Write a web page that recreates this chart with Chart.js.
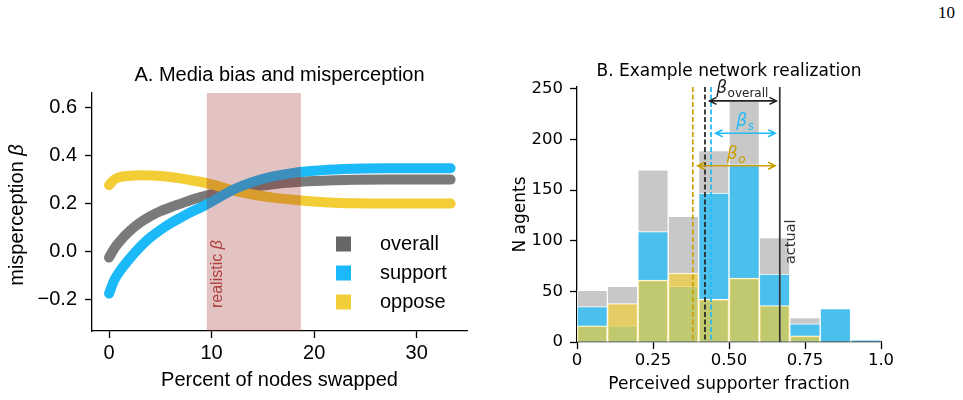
<!DOCTYPE html>
<html>
<head>
<meta charset="utf-8">
<script src="https://cdn.jsdelivr.net/npm/chart.js@4"></script>
<style>
  body { margin: 0; background: #fff; width: 963px; height: 400px; position: relative; overflow: hidden; }
  #boxA { position: absolute; left: 0; top: 0; width: 480px; height: 400px; }
  #boxB { position: absolute; left: 480px; top: 0; width: 483px; height: 400px; }
  #page { position: absolute; left: 938px; top: 3px; font: 17px 'Liberation Serif', serif; color: #000; }
</style>
</head>
<body>
<div id="page">10</div>
<div id="boxA"><canvas id="chartA" width="480" height="400"></canvas></div>
<div id="boxB"><canvas id="chartB" width="483" height="400"></canvas></div>
<script>
// ---- panel A data ----
const swapPct     = [0, 0.5, 1, 2, 3, 4, 5, 6, 7, 8, 9, 10, 12, 14, 16, 18, 20, 22, 24, 27, 30, 33.3];
const overallBeta = [-0.025, 0.012, 0.04, 0.085, 0.12, 0.147, 0.168, 0.185, 0.2, 0.215, 0.228, 0.24, 0.256, 0.27, 0.281, 0.289, 0.294, 0.297, 0.299, 0.3, 0.3, 0.3];
const supportBeta = [-0.175, -0.12, -0.085, -0.03, 0.018, 0.058, 0.09, 0.118, 0.142, 0.165, 0.185, 0.208, 0.256, 0.29, 0.313, 0.328, 0.337, 0.342, 0.345, 0.347, 0.347, 0.347];
const opposeBeta  = [0.277, 0.3, 0.31, 0.316, 0.318, 0.317, 0.315, 0.311, 0.305, 0.297, 0.29, 0.28, 0.256, 0.238, 0.225, 0.216, 0.209, 0.204, 0.201, 0.2, 0.2, 0.2];
const realisticRange = [9.53, 18.7];
const seriesNamesA = ['overall', 'support', 'oppose'];
const xTicksA = [0, 10, 20, 30];
const yTicksA = [-0.2, 0, 0.2, 0.4, 0.6];
const yTickLabelsA = ['\u22120.2', '0.0', '0.2', '0.4', '0.6'];

// ---- panel B data ----
const binCenters    = [0.05, 0.15, 0.25, 0.35, 0.45, 0.55, 0.65, 0.75, 0.85, 0.95];
const overallCounts = [51, 55, 170, 124, 189, 238, 103, 24, 33, 2];
const supportCounts = [35, 16, 109, 55, 147, 175, 67, 18, 33, 2];
const opposeCounts  = [16, 38, 61, 68, 42, 63, 36, 6, 0, 0];
const meanOppose = 0.381, meanOverall = 0.421, meanSupport = 0.441, actualFrac = 0.667;
const xTicksB = [0, 0.25, 0.5, 0.75, 1.0];
const xTickLabelsB = ['0', '0.25', '0.50', '0.75', '1.0'];
const yTicksB = [0, 50, 100, 150, 200, 250];

const LIB = '"Liberation Sans", Arial, sans-serif';
const DJV = '"DejaVu Sans", sans-serif';
const lineColors = ['#7a7a7a', '#1bb9f8', '#f2cd35'];
const legendColors = ['#666666', '#1bb9f9', '#f2cf3a'];

const pts = ys => swapPct.map((x, i) => ({ x, y: ys[i] }));
const bars = ys => binCenters.map((x, i) => ({ x, y: ys[i] }));

function axisStyle(font, pad) {
  return {
    grid: { drawOnChartArea: false, drawTicks: true, tickLength: 7, tickWidth: 1.3, tickColor: '#000' },
    border: { color: '#000', width: 1.3 },
    ticks: { color: '#000', font, padding: pad }
  };
}

// text with an italic beta at the end, centred on (0,0)
function textWithBeta(ctx, txt, size, family) {
  ctx.font = size + 'px ' + family;
  const w1 = ctx.measureText(txt).width;
  ctx.font = 'italic ' + size + 'px ' + family;
  const w2 = ctx.measureText('\u03b2').width;
  ctx.textAlign = 'left';
  ctx.font = size + 'px ' + family;
  ctx.fillText(txt, -(w1 + w2) / 2, 0);
  ctx.font = 'italic ' + size + 'px ' + family;
  ctx.fillText('\u03b2', -(w1 + w2) / 2 + w1, 0);
}

// ---- panel A: curves, shaded band, legend ----
const panelA = {
  id: 'panelA',
  afterDatasetsDraw(chart) {
    const { ctx, chartArea: a, scales: { x, y } } = chart;
    ctx.save();
    const x0 = x.getPixelForValue(realisticRange[0]);
    const x1 = x.getPixelForValue(realisticRange[1]);
    ctx.fillStyle = 'rgba(150,30,30,0.27)';
    ctx.fillRect(x0, a.top, x1 - x0, a.bottom - a.top);

    // rotated band label
    ctx.translate(x.getPixelForValue(10.6), y.getPixelForValue(-0.094));
    ctx.rotate(-Math.PI / 2);
    ctx.fillStyle = '#b04040';
    ctx.textBaseline = 'middle';
    textWithBeta(ctx, 'realistic ', 16, LIB);
    ctx.restore();

    // y axis title
    ctx.save();
    ctx.translate(17, (a.top + a.bottom) / 2 + 3);
    ctx.rotate(-Math.PI / 2);
    ctx.fillStyle = '#000';
    ctx.textBaseline = 'middle';
    textWithBeta(ctx, 'misperception ', 20, LIB);
    ctx.restore();

    // legend inside the axes
    ctx.save();
    ctx.font = '20px ' + LIB;
    ctx.textBaseline = 'middle';
    ctx.textAlign = 'left';
    seriesNamesA.forEach((name, i) => {
      const cy = 244 + i * 29;
      ctx.fillStyle = legendColors[i];
      ctx.fillRect(336, cy - 7.5, 15, 15);
      ctx.fillStyle = '#000';
      ctx.fillText(name, 380, cy);
    });
    // title
    ctx.textAlign = 'center';
    ctx.fillText('A. Media bias and misperception', (a.left + a.right) / 2, 75);
    ctx.restore();
  }
};

new Chart(document.getElementById('chartA'), {
  type: 'line',
  data: {
    datasets: [overallBeta, supportBeta, opposeBeta].map((ys, i) => ({
      label: seriesNamesA[i],
      data: pts(ys),
      borderColor: lineColors[i],
      borderWidth: 10,
      borderCapStyle: 'round',
      borderJoinStyle: 'round',
      pointRadius: 0,
      cubicInterpolationMode: 'monotone',
      order: [3, 1, 2][i]
    }))
  },
  options: {
    responsive: false,
    animation: false,
    layout: { padding: { top: 93, right: 13, left: 0, bottom: 0 } },
    plugins: { legend: { display: false }, tooltip: { enabled: false } },
    scales: {
      x: {
        type: 'linear', min: -1.66, max: 34.9,
        afterBuildTicks: s => { s.ticks = xTicksA.map(v => ({ value: v })); },
        afterFit: s => { s.height = 69; },
        title: { display: true, text: 'Percent of nodes swapped', color: '#000',
                 font: { family: LIB, size: 20, lineHeight: 1.2 }, padding: { top: 0, bottom: 8 } },
        ...axisStyle({ family: LIB, size: 20 }, 3)
      },
      y: {
        type: 'linear', min: -0.331, max: 0.661,
        afterBuildTicks: s => { s.ticks = yTicksA.map(v => ({ value: v })); },
        afterFit: s => { s.width = 92; },
        ...axisStyle({ family: LIB, size: 20 }, 8),
        ticks: { color: '#000', font: { family: LIB, size: 20 }, padding: 8,
                 callback: (v, i) => yTickLabelsA[i] }
      }
    }
  },
  plugins: [panelA]
});

// ---- panel B: histogram with mean markers ----
function drawArrow(ctx, xa, xb, yy, color) {
  const hl = 7, hw = 3.5;
  ctx.strokeStyle = color;
  ctx.lineWidth = 1.6;
  ctx.beginPath();
  ctx.moveTo(xa, yy); ctx.lineTo(xb, yy);
  ctx.moveTo(xa + hl, yy - hw); ctx.lineTo(xa, yy); ctx.lineTo(xa + hl, yy + hw);
  ctx.moveTo(xb - hl, yy - hw); ctx.lineTo(xb, yy); ctx.lineTo(xb - hl, yy + hw);
  ctx.stroke();
}

function drawBeta(ctx, xx, yy, sub, color, subItalic) {
  ctx.fillStyle = color;
  ctx.textBaseline = 'alphabetic';
  ctx.textAlign = 'left';
  ctx.font = 'italic 17px ' + DJV;
  ctx.fillText('\u03b2', xx, yy);
  const w = ctx.measureText('\u03b2').width;
  ctx.font = (subItalic ? 'italic ' : '') + '12px ' + DJV;
  ctx.fillText(sub, xx + w + 0.5, yy + 4);
}

const panelB = {
  id: 'panelB',
  afterDatasetsDraw(chart) {
    const { ctx, chartArea: a, scales: { x, y } } = chart;
    ctx.save();
    const vlines = [
      [meanOppose, '#c9a000', [5, 2.5]],
      [meanOverall, '#222222', [5, 2.5]],
      [meanSupport, '#22bbf5', [5, 2.5]],
      [actualFrac, '#333333', []]
    ];
    vlines.forEach(([v, c, dash]) => {
      const px = x.getPixelForValue(v);
      ctx.strokeStyle = c;
      ctx.lineWidth = 1.7;
      ctx.setLineDash(dash);
      ctx.beginPath();
      ctx.moveTo(px, a.top);
      ctx.lineTo(px, a.bottom);
      ctx.stroke();
    });
    ctx.setLineDash([]);

    drawArrow(ctx, x.getPixelForValue(0.436), x.getPixelForValue(0.656), y.getPixelForValue(238), '#222222');
    drawArrow(ctx, x.getPixelForValue(0.456), x.getPixelForValue(0.652), y.getPixelForValue(206), '#22bbf5');
    drawArrow(ctx, x.getPixelForValue(0.397), x.getPixelForValue(0.652), y.getPixelForValue(174), '#c9a000');

    drawBeta(ctx, x.getPixelForValue(0.458), y.getPixelForValue(238) - 8, 'overall', '#222222', false);
    drawBeta(ctx, x.getPixelForValue(0.524), y.getPixelForValue(206) - 7, 's', '#22bbf5', true);
    drawBeta(ctx, x.getPixelForValue(0.493), y.getPixelForValue(174) - 7, 'o', '#c9a000', true);

    // "actual" label beside the solid line
    ctx.save();
    ctx.translate(x.getPixelForValue(actualFrac) + 11, y.getPixelForValue(99));
    ctx.rotate(-Math.PI / 2);
    ctx.font = '14.5px ' + DJV;
    ctx.fillStyle = '#333';
    ctx.textAlign = 'center';
    ctx.textBaseline = 'middle';
    ctx.fillText('actual', 0, 0);
    ctx.restore();

    ctx.font = '17px ' + DJV;
    ctx.fillStyle = '#000';
    ctx.textAlign = 'center';
    ctx.textBaseline = 'middle';
    ctx.fillText('B. Example network realization', (a.left + a.right) / 2, 72);
    ctx.restore();
  }
};

const barBase = { borderColor: '#ffffff', borderWidth: 1, barPercentage: 1, categoryPercentage: 1, grouped: false };

new Chart(document.getElementById('chartB'), {
  type: 'bar',
  data: {
    datasets: [
      { ...barBase, label: 'overall', data: bars(overallCounts), backgroundColor: '#c8c8c8', order: 3 },
      { ...barBase, label: 'support', data: bars(supportCounts), backgroundColor: '#4cc0ec', order: 2 },
      { ...barBase, label: 'oppose', data: bars(opposeCounts), backgroundColor: 'rgba(242,205,58,0.7)', order: 1 }
    ]
  },
  options: {
    responsive: false,
    animation: false,
    layout: { padding: { top: 87, right: 82, left: 0, bottom: 0 } },
    plugins: { legend: { display: false }, tooltip: { enabled: false } },
    scales: {
      x: {
        type: 'linear', min: 0, max: 1, offset: false,
        afterBuildTicks: s => { s.ticks = xTicksB.map(v => ({ value: v })); },
        afterFit: s => { s.height = 58; },
        title: { display: true, text: 'Perceived supporter fraction', color: '#000',
                 font: { family: DJV, size: 17, lineHeight: 1.2 }, padding: { top: 0, bottom: 5 } },
        ...axisStyle({ family: DJV, size: 16.5 }, 2),
        grid: { offset: false, drawOnChartArea: false, drawTicks: true, tickLength: 7, tickWidth: 1.3, tickColor: '#000' },
        ticks: { color: '#000', font: { family: DJV, size: 16.5 }, padding: 2,
                 callback: (v, i) => xTickLabelsB[i] }
      },
      y: {
        type: 'linear', min: 0, max: 251.7,
        afterBuildTicks: s => { s.ticks = yTicksB.map(v => ({ value: v })); },
        afterFit: s => { s.width = 97; },
        title: { display: true, text: 'N agents', color: '#000',
                 font: { family: DJV, size: 17, lineHeight: 1.2 }, padding: { top: 30, bottom: 0 } },
        ...axisStyle({ family: DJV, size: 16.5 }, 7)
      }
    }
  },
  plugins: [panelB]
});
</script>
</body>
</html>
